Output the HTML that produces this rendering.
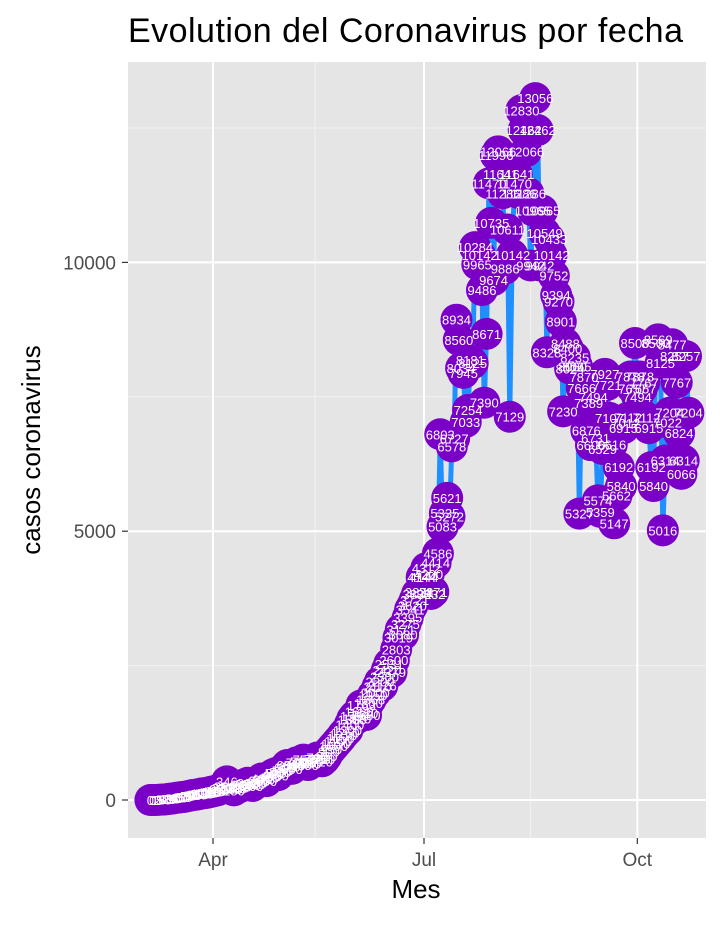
<!DOCTYPE html>
<html><head><meta charset="utf-8"><style>
body{margin:0;background:#fff;}
svg text{font-family:"Liberation Sans",Arial,sans-serif;}
</style></head><body>
<svg id="chart" width="720" height="921" xmlns="http://www.w3.org/2000/svg">
<rect x="0" y="0" width="720" height="921" fill="#fff"/>
<text x="128" y="42" font-size="34" textLength="555" fill="#000">Evolution del Coronavirus por fecha</text>
<rect x="128" y="62" width="578" height="776" fill="#e5e5e5"/>
<g id="grid"></g>
<g id="series"></g>
<g id="axes"></g>
<text x="416" y="898" font-size="26" text-anchor="middle" fill="#000">Mes</text>
<text transform="translate(40,450) rotate(-90)" font-size="26" text-anchor="middle" fill="#000">casos coronavirus</text>
</svg>
<script>
const startDay = -27; // Mar 5 relative to Apr 1
const cases = [
0,0,1,2,5,8,10,15,20,25,30,40,45,50,55,60,70,80,90,95,100,110,120,125,130,140,150,
160,170,180,200,220,250,346,230,200,180,210,230,250,280,300,320,280,260,300,330,360,400,380,350,420,450,480,500,460,520,
550,600,650,620,580,640,700,680,720,750,700,650,680,720,760,790,760,720,760,820,900,950,1000,1050,1100,1150,1210,1260,1300,1400,1500,
1560,1520,1650,1763,1620,1580,1800,1868,1950,2000,2110,2200,2126,2300,2420,2531,2379,2600,2803,3019,3171,3080,3275,3395,3541,3620,3721,3832,3871,4144,
4144,4312,4200,3832,3871,4414,4586,6803,5083,5335,5621,5272,6578,6727,8934,8560,8034,7945,7033,7254,8181,8125,10284,9965,10142,9486,7390,8671,11470,10735,9674,
11996,12066,11641,11286,9886,10611,7129,10142,11470,11641,11286,12830,12462,12066,11286,9942,10965,13056,12462,9942,10965,10549,8328,10433,10142,9752,9394,9270,8901,7230,8488,
8400,8024,8060,8235,8065,5327,7666,7870,6876,7389,6600,7494,6731,5574,5359,6529,7927,7721,7107,6616,5147,5662,6192,5840,6915,7012,7112,7878,7657,8500,
7494,7878,7657,7767,7112,6915,6192,5840,8500,8569,8125,5016,6314,7022,7204,8477,8257,7767,6824,6066,6314,8257,7204
];
const yTicks = [0,5000,10000];
const yMinor = [2500,7500,12500];
const xTickLabels = ["Apr","Jul","Oct"];
const xTickDays = [0,91,183];
const xMinorDays = [-46,44,137];

const NS="http://www.w3.org/2000/svg";
function X(d){return 213 + d*2.3187;}
function Y(v){return 800 - v*0.05376;}
function mk(tag,attrs,parent){const e=document.createElementNS(NS,tag);for(const k in attrs)e.setAttribute(k,attrs[k]);parent.appendChild(e);return e;}
const grid=document.getElementById('grid'),series=document.getElementById('series'),axes=document.getElementById('axes');
yMinor.forEach(v=>{const l=mk('line',{x1:128,x2:706,y1:Y(v),y2:Y(v),stroke:'#f2f2f2','stroke-width':1},grid);

});
xMinorDays.forEach(d=>{if(X(d)<128)return;const l=mk('line',{x1:X(d),x2:X(d),y1:62,y2:838,stroke:'#f2f2f2','stroke-width':1},grid);

});
yTicks.forEach(v=>{const l=mk('line',{x1:128,x2:706,y1:Y(v),y2:Y(v),stroke:'#fff','stroke-width':2},grid);


const t=mk('line',{x1:122,x2:128,y1:Y(v),y2:Y(v),stroke:'#333','stroke-width':1.2},axes);


const tx=mk('text',{x:116,y:Y(v)+7,'font-size':19,'text-anchor':'end',fill:'#4d4d4d'},axes);tx.textContent=v;

});
xTickDays.forEach((d,i)=>{const l=mk('line',{x1:X(d),x2:X(d),y1:62,y2:838,stroke:'#fff','stroke-width':2},grid);


const t=mk('line',{x1:X(d),x2:X(d),y1:838,y2:844,stroke:'#333','stroke-width':1.2},axes);


const tx=mk('text',{x:X(d),y:866,'font-size':19,'text-anchor':'middle',fill:'#4d4d4d'},axes);tx.textContent=xTickLabels[i];

});
const pts=cases.map((v,i)=>[X(startDay+i),Y(v)]);
const path=mk('polyline',{points:pts.map(p=>p.join(',')).join(' '),fill:'none',stroke:'#1e90ff','stroke-width':5,'stroke-linejoin':'round'},series);


pts.forEach(p=>{const c=mk('circle',{cx:p[0],cy:p[1],r:16,fill:'#7a00c8'},series);

});
pts.forEach((p,i)=>{const t=mk('text',{x:p[0],y:p[1]+5,'font-size':13,'text-anchor':'middle',fill:'#fff'},series);t.textContent=cases[i];

});
</script>
</body></html>
